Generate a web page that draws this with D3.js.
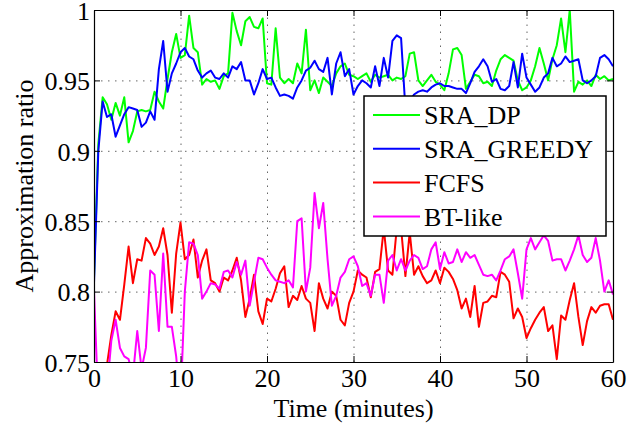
<!DOCTYPE html>
<meta charset="utf-8">
<style>
body { margin: 0; background: #fff; }
.grid line { stroke: #666; stroke-width: 1; stroke-dasharray: 1.5,5.5; }
.grid path { display: none; }
.line { fill: none; stroke-width: 2; stroke-linejoin: round; }
</style>
<svg width="644" height="425"></svg>
<script src="https://cdn.jsdelivr.net/npm/d3@7/dist/d3.min.js"></script>
<script>

const FONT = "'Liberation Serif', 'DejaVu Serif', serif";

// samples every half minute, 0 .. 60
const times = d3.range(0, 60.25, 0.5);

const sraDp = [
  0.810, 0.905, 0.938, 0.933, 0.922, 0.934, 0.925, 0.938, 0.906, 0.914,
  0.928, 0.929, 0.928, 0.929, 0.942, 0.935, 0.930, 0.951, 0.970, 0.983,
  0.966, 0.968, 0.996, 0.973, 0.970, 0.947, 0.951, 0.949, 0.950, 0.944,
  0.953, 0.955, 0.998, 0.985, 0.975, 0.992, 0.995, 0.988, 0.987, 0.994,
  0.948, 0.947, 0.987, 0.952, 0.948, 0.951, 0.948, 0.962, 0.955, 0.986,
  0.943, 0.950, 0.941, 0.952, 0.949, 0.946, 0.955, 0.960, 0.962, 0.954,
  0.953, 0.951, 0.953, 0.955, 0.949, 0.954, 0.952, 0.953, 0.954, 0.950,
  0.952, 0.951, 0.953, 0.969, 0.970, 0.950, 0.946, 0.950, 0.954, 0.949,
  0.947, 0.943, 0.955, 0.972, 0.973, 0.968, 0.944, 0.949, 0.954, 0.953,
  0.948, 0.949, 0.946, 0.957, 0.965, 0.968, 0.966, 0.964, 0.950, 0.943,
  0.945, 0.950, 0.960, 0.973, 0.962, 0.950, 0.965, 0.975, 0.994, 0.970,
  1.000, 0.942, 0.949, 0.947, 0.950, 0.946, 0.954, 0.951, 0.953, 0.950,
  0.951
];

const sraGreedy = [
  0.806, 0.900, 0.935, 0.924, 0.926, 0.910, 0.918, 0.926, 0.931, 0.930,
  0.929, 0.917, 0.920, 0.928, 0.922, 0.958, 0.978, 0.942, 0.955, 0.962,
  0.970, 0.973, 0.967, 0.965, 0.957, 0.952, 0.955, 0.957, 0.952, 0.951,
  0.955, 0.952, 0.960, 0.958, 0.963, 0.950, 0.950, 0.940, 0.948, 0.958,
  0.951, 0.952, 0.945, 0.939, 0.940, 0.939, 0.937, 0.945, 0.950, 0.957,
  0.959, 0.964, 0.958, 0.956, 0.966, 0.940, 0.962, 0.970, 0.953, 0.958,
  0.940, 0.946, 0.950, 0.948, 0.945, 0.960, 0.946, 0.966, 0.952, 0.978,
  0.982, 0.980, 0.930, 0.935, 0.940, 0.942, 0.943, 0.942, 0.945, 0.947,
  0.948, 0.946, 0.946, 0.945, 0.944, 0.944, 0.941, 0.948, 0.956, 0.960,
  0.965, 0.960, 0.949, 0.951, 0.944, 0.943, 0.946, 0.963, 0.945, 0.969,
  0.952, 0.947, 0.942, 0.945, 0.952, 0.955, 0.966, 0.960, 0.962, 0.967,
  0.963, 0.964, 0.965, 0.950, 0.948, 0.950, 0.953, 0.966, 0.968, 0.965,
  0.960
];

const fcfs = [
  0.700, 0.720, 0.740, 0.748, 0.769, 0.786, 0.780, 0.805, 0.832, 0.806,
  0.823, 0.822, 0.838, 0.834, 0.826, 0.832, 0.845, 0.826, 0.785, 0.827,
  0.849, 0.823, 0.826, 0.837, 0.810, 0.822, 0.830, 0.808, 0.806, 0.800,
  0.810, 0.808, 0.815, 0.824, 0.808, 0.782, 0.795, 0.812, 0.786, 0.777,
  0.795, 0.793, 0.802, 0.813, 0.818, 0.789, 0.797, 0.794, 0.804, 0.795,
  0.792, 0.772, 0.806, 0.795, 0.788, 0.800, 0.797, 0.780, 0.776, 0.792,
  0.800, 0.815, 0.812, 0.810, 0.796, 0.814, 0.816, 0.845, 0.815, 0.812,
  0.845, 0.845, 0.811, 0.842, 0.812, 0.818, 0.811, 0.806, 0.808, 0.815,
  0.806, 0.817, 0.814, 0.809, 0.801, 0.788, 0.795, 0.782, 0.804, 0.775,
  0.792, 0.793, 0.797, 0.796, 0.814, 0.812, 0.807, 0.781, 0.788, 0.782,
  0.767, 0.774, 0.780, 0.785, 0.789, 0.772, 0.776, 0.752, 0.783, 0.780,
  0.794, 0.806, 0.782, 0.762, 0.779, 0.789, 0.785, 0.790, 0.791, 0.791,
  0.780
];

const btLike = [
  0.800, 0.720, 0.700, 0.730, 0.765, 0.780, 0.760, 0.754, 0.752, 0.740,
  0.772, 0.745, 0.760, 0.815, 0.812, 0.772, 0.827, 0.775, 0.775, 0.754,
  0.720, 0.800, 0.835, 0.834, 0.826, 0.795, 0.800, 0.806, 0.805, 0.802,
  0.814, 0.815, 0.810, 0.821, 0.812, 0.822, 0.790, 0.807, 0.824, 0.823,
  0.817, 0.812, 0.808, 0.807, 0.806, 0.808, 0.803, 0.850, 0.852, 0.800,
  0.817, 0.870, 0.845, 0.863, 0.823, 0.790, 0.797, 0.810, 0.814, 0.823,
  0.825, 0.818, 0.804, 0.806, 0.797, 0.812, 0.812, 0.792, 0.822, 0.826,
  0.815, 0.823, 0.815, 0.822, 0.826, 0.824, 0.816, 0.818, 0.830, 0.835,
  0.816, 0.828, 0.820, 0.821, 0.830, 0.821, 0.828, 0.824, 0.826, 0.819,
  0.812, 0.811, 0.812, 0.808, 0.815, 0.823, 0.825, 0.830, 0.813, 0.795,
  0.830, 0.838, 0.830, 0.835, 0.840, 0.836, 0.822, 0.823, 0.823, 0.815,
  0.822, 0.830, 0.840, 0.826, 0.821, 0.824, 0.838, 0.822, 0.800, 0.808,
  0.798
];

const seriesNames = ['SRA_DP', 'SRA_GREEDY', 'FCFS', 'BT-like'];
const seriesColors = ['#00ff00', '#0000ff', '#ff0000', '#ff00ff'];
const xTicks = [0, 10, 20, 30, 40, 50, 60];
const yTicks = [0.75, 0.8, 0.85, 0.9, 0.95, 1];
const yTickLabels = ['0.75', '0.8', '0.85', '0.9', '0.95', '1'];

const series = [sraDp, sraGreedy, fcfs, btLike].map((vals, i) => ({
  name: seriesNames[i],
  color: seriesColors[i],
  values: vals.map((v, j) => ({ t: times[j], v: v }))
}));

const margin = { top: 10, right: 31, bottom: 63, left: 94 };
const width = 644 - margin.left - margin.right;
const height = 425 - margin.top - margin.bottom;

const svg = d3.select('svg');
const g = svg.append('g').attr('transform', `translate(${margin.left},${margin.top})`);

const x = d3.scaleLinear().domain([0, 60]).range([0, width]);
const y = d3.scaleLinear().domain([0.75, 1]).range([height, 0]);

// dotted grid
g.append('g').attr('class', 'grid')
  .attr('transform', `translate(0,${height})`)
  .call(d3.axisBottom(x).tickValues(xTicks).tickSize(-height).tickFormat(''));
g.append('g').attr('class', 'grid')
  .call(d3.axisLeft(y).tickValues(yTicks).tickSize(-width).tickFormat(''));

g.append('clipPath').attr('id', 'clip')
  .append('rect').attr('width', width).attr('height', height);

const line = d3.line().x(d => x(d.t)).y(d => y(d.v));

g.append('g').attr('clip-path', 'url(#clip)')
  .selectAll('path')
  .data(series)
  .enter().append('path')
    .attr('class', 'line')
    .attr('stroke', d => d.color)
    .attr('d', d => line(d.values));

// axes, ticks inward on all four sides
function styleAxis(sel) {
  sel.attr('font-family', FONT).attr('font-size', 26);
  sel.selectAll('path').attr('stroke', '#000').attr('stroke-width', 1.2);
  sel.selectAll('line').attr('stroke', '#000').attr('stroke-width', 1);
  sel.selectAll('text')
    .attr('fill', '#000')
    .style('font-family', FONT)
    .style('font-size', '26px');
}

g.append('g')
  .attr('transform', `translate(0,${height})`)
  .call(d3.axisBottom(x).tickValues(xTicks).tickSizeInner(-6).tickSizeOuter(0).tickPadding(7))
  .call(styleAxis);

g.append('g')
  .call(d3.axisLeft(y).tickValues(yTicks).tickFormat((d, i) => yTickLabels[i])
    .tickSizeInner(-6).tickSizeOuter(0).tickPadding(4))
  .call(styleAxis)
  .selectAll('text').attr('dy', '0.36em');

g.append('g')
  .call(d3.axisTop(x).tickValues(xTicks).tickSizeInner(-6).tickSizeOuter(0).tickFormat(''))
  .call(styleAxis);

g.append('g')
  .attr('transform', `translate(${width},0)`)
  .call(d3.axisRight(y).tickValues(yTicks).tickSizeInner(-6).tickSizeOuter(0).tickFormat(''))
  .call(styleAxis);

// axis titles
svg.append('text')
  .attr('x', margin.left + width / 2)
  .attr('y', 417)
  .attr('text-anchor', 'middle')
  .style('font-family', FONT)
  .style('font-size', '26px')
  .text('Time (minutes)');

svg.append('text')
  .attr('transform', `translate(33,${margin.top + height / 2}) rotate(-90)`)
  .attr('text-anchor', 'middle')
  .style('font-family', FONT)
  .style('font-size', '26px')
  .text('Approximation ratio');

// legend
const legend = g.append('g').attr('transform', `translate(${364 - margin.left},${96 - margin.top})`);
legend.append('rect')
  .attr('width', 242).attr('height', 140)
  .attr('fill', '#fff').attr('stroke', '#000').attr('stroke-width', 1.5);

const item = legend.selectAll('.item')
  .data(series)
  .enter().append('g')
    .attr('class', 'item')
    .attr('transform', (d, i) => `translate(0,${19 + i * 33.8})`);

item.append('line')
  .attr('x1', 9).attr('x2', 56)
  .attr('stroke', d => d.color)
  .attr('stroke-width', 2);

item.append('text')
  .attr('x', 60)
  .attr('dy', '0.36em')
  .style('font-family', FONT)
  .style('font-size', '26px')
  .text(d => d.name);

</script>
